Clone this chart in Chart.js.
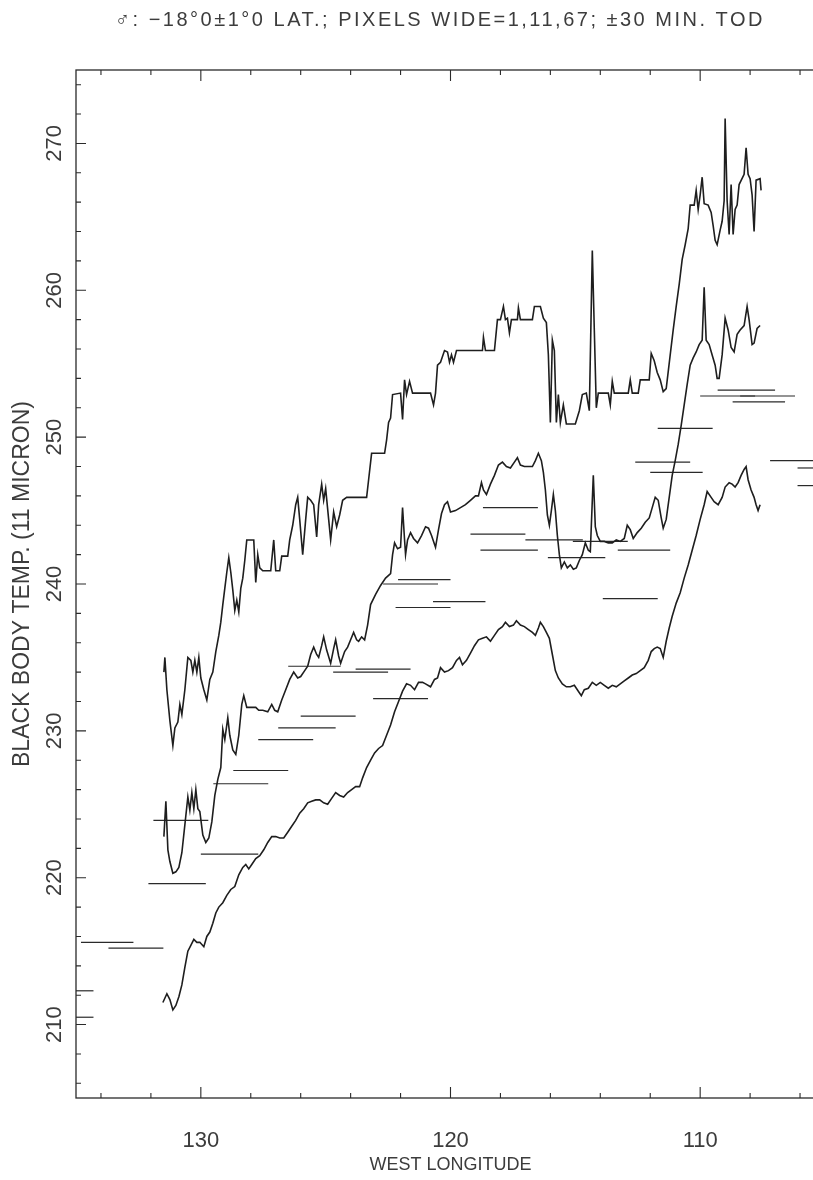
<!DOCTYPE html>
<html>
<head>
<meta charset="utf-8">
<script src="https://cdn.jsdelivr.net/npm/chart.js@4/dist/chart.umd.min.js"></script>
<style>
  html, body { margin: 0; padding: 0; background: #fff; width: 813px; height: 1180px; overflow: hidden; }
  #wrap { position: absolute; left: 0; top: 0; width: 874px; height: 1180px; }
</style>
</head>
<body>
<div id="wrap"><canvas id="chart" width="874" height="1180"></canvas></div>
<script>
// Brightness temperature (11 micron) against west longitude, three traces: [longitude, temperature]
const upperTrace = [[131.48,234.0],[131.44,235.0],[131.36,232.8],[131.24,230.7],[131.12,229.0],[131.04,230.2],[130.92,230.6],[130.84,231.8],[130.76,231.1],[130.64,232.8],[130.52,235.0],[130.40,234.8],[130.32,234.0],[130.24,234.8],[130.16,234.0],[130.08,235.0],[130.00,233.6],[129.88,232.8],[129.76,232.1],[129.64,233.5],[129.52,234.0],[129.40,235.4],[129.28,236.5],[129.20,237.4],[129.12,238.6],[129.04,239.7],[128.96,240.8],[128.88,241.8],[128.80,240.8],[128.72,239.6],[128.64,238.2],[128.56,238.9],[128.48,238.1],[128.40,239.7],[128.32,240.4],[128.24,241.6],[128.16,243.0],[128.00,243.0],[127.88,243.0],[127.80,240.1],[127.72,242.0],[127.64,241.1],[127.52,240.9],[127.20,240.9],[127.08,243.0],[127.00,240.9],[126.84,240.9],[126.76,241.9],[126.52,241.9],[126.44,243.0],[126.32,244.0],[126.20,245.4],[126.12,245.9],[126.04,244.4],[125.92,242.0],[125.80,244.4],[125.72,245.9],[125.60,245.7],[125.48,245.4],[125.36,243.2],[125.28,245.4],[125.16,246.8],[125.08,245.7],[125.00,246.5],[124.88,244.4],[124.80,243.0],[124.68,244.9],[124.56,243.9],[124.44,244.7],[124.32,245.7],[124.16,245.9],[123.36,245.9],[123.28,247.1],[123.16,248.9],[122.64,248.9],[122.56,249.8],[122.48,251.0],[122.40,251.3],[122.32,252.9],[122.00,253.0],[121.92,251.2],[121.84,253.9],[121.76,252.9],[121.64,253.8],[121.52,253.0],[120.80,253.0],[120.68,252.2],[120.60,253.0],[120.52,254.9],[120.40,255.1],[120.24,255.9],[120.12,255.8],[120.04,255.1],[119.96,255.6],[119.88,255.1],[119.76,255.9],[119.60,255.9],[118.72,255.9],[118.68,256.8],[118.60,255.9],[118.24,255.9],[118.12,258.0],[118.00,258.0],[117.88,258.9],[117.80,258.0],[117.72,258.1],[117.64,257.1],[117.56,258.0],[117.32,258.0],[117.28,258.8],[117.20,258.0],[116.72,258.0],[116.64,258.9],[116.40,258.9],[116.28,258.1],[116.16,257.8],[116.08,255.6],[116.00,251.0],[115.92,256.6],[115.84,255.9],[115.76,251.0],[115.68,252.9],[115.60,251.0],[115.48,252.2],[115.36,250.9],[115.00,250.9],[114.84,251.8],[114.72,252.9],[114.56,253.0],[114.44,251.8],[114.32,262.7],[114.24,257.3],[114.16,252.0],[114.08,253.0],[113.68,253.0],[113.60,252.2],[113.52,253.8],[113.44,253.0],[112.88,253.0],[112.80,253.9],[112.72,253.0],[112.48,253.0],[112.40,253.9],[112.04,253.9],[111.96,255.7],[111.84,255.2],[111.72,254.4],[111.60,253.9],[111.48,253.1],[111.36,253.3],[111.20,255.6],[111.08,257.3],[110.96,258.9],[110.84,260.4],[110.72,262.1],[110.60,263.1],[110.48,264.2],[110.40,265.8],[110.24,265.8],[110.16,266.8],[110.08,265.5],[110.00,266.5],[109.92,267.7],[109.84,265.9],[109.68,265.8],[109.56,265.3],[109.48,264.4],[109.40,263.4],[109.32,263.1],[109.20,264.1],[109.12,264.7],[109.04,266.1],[109.00,271.7],[108.92,266.1],[108.84,263.8],[108.76,267.2],[108.68,263.8],[108.60,265.5],[108.52,265.8],[108.44,267.2],[108.24,267.9],[108.16,269.7],[108.08,267.9],[108.00,267.6],[107.92,266.5],[107.84,264.0],[107.76,267.5],[107.60,267.6],[107.56,266.8]];

const middleTrace = [[131.48,222.8],[131.40,225.2],[131.32,221.9],[131.24,221.1],[131.12,220.3],[131.00,220.4],[130.88,220.7],[130.76,221.7],[130.64,223.6],[130.52,225.5],[130.44,224.6],[130.36,225.8],[130.28,224.7],[130.20,226.0],[130.12,224.7],[130.04,224.5],[129.92,222.9],[129.80,222.4],[129.68,222.7],[129.56,223.8],[129.44,225.6],[129.32,226.7],[129.20,227.5],[129.12,230.1],[129.04,229.4],[128.92,230.9],[128.84,229.7],[128.72,228.7],[128.60,228.4],[128.48,229.7],[128.36,231.8],[128.28,232.4],[128.16,231.6],[128.00,231.6],[127.80,231.6],[127.68,231.4],[127.52,231.4],[127.32,231.3],[127.16,231.8],[127.04,231.4],[126.92,231.3],[126.76,232.1],[126.60,232.8],[126.44,233.5],[126.28,234.0],[126.12,233.6],[126.00,233.7],[125.84,234.1],[125.72,234.4],[125.60,235.2],[125.48,235.7],[125.36,235.2],[125.28,235.0],[125.16,235.8],[125.08,236.4],[124.96,235.5],[124.80,234.6],[124.68,235.6],[124.60,236.2],[124.48,235.1],[124.40,234.6],[124.24,235.4],[124.12,235.7],[124.00,236.2],[123.88,236.7],[123.76,236.2],[123.68,236.1],[123.56,236.4],[123.44,236.2],[123.32,237.2],[123.20,238.6],[123.00,239.3],[122.80,239.9],[122.60,240.4],[122.40,240.7],[122.32,242.0],[122.24,242.8],[122.12,242.4],[122.00,242.5],[121.92,245.2],[121.84,243.0],[121.80,242.0],[121.72,243.0],[121.60,243.5],[121.48,243.1],[121.32,242.8],[121.16,243.3],[121.00,243.9],[120.88,243.8],[120.76,243.3],[120.60,242.5],[120.48,243.7],[120.36,244.8],[120.24,245.4],[120.12,245.6],[120.00,244.9],[119.80,245.0],[119.60,245.2],[119.40,245.4],[119.20,245.7],[119.00,246.0],[118.88,246.0],[118.76,246.9],[118.68,246.4],[118.56,246.1],[118.40,246.8],[118.24,247.4],[118.08,248.1],[117.92,248.3],[117.76,248.0],[117.60,247.9],[117.44,248.3],[117.32,248.6],[117.20,248.1],[117.04,248.0],[116.88,248.0],[116.72,248.0],[116.60,248.4],[116.48,248.9],[116.36,248.4],[116.28,247.6],[116.20,246.4],[116.12,244.7],[116.04,244.0],[115.96,245.0],[115.88,246.1],[115.80,245.0],[115.72,243.3],[115.64,242.0],[115.56,241.1],[115.44,241.5],[115.32,241.1],[115.20,241.3],[115.08,241.0],[114.96,241.1],[114.84,241.6],[114.72,242.0],[114.60,242.8],[114.48,242.3],[114.40,242.2],[114.32,245.7],[114.28,247.4],[114.20,243.9],[114.12,243.3],[114.00,242.9],[113.84,242.9],[113.68,242.8],[113.52,242.8],[113.36,243.0],[113.20,242.9],[113.04,243.1],[112.92,244.0],[112.80,243.7],[112.68,243.1],[112.52,243.5],[112.36,243.8],[112.20,244.2],[112.04,244.5],[111.92,245.2],[111.80,245.9],[111.68,245.7],[111.56,244.5],[111.48,243.8],[111.36,244.4],[111.24,245.9],[111.12,247.4],[111.00,248.4],[110.88,249.5],[110.76,250.8],[110.64,252.2],[110.52,253.6],[110.40,254.9],[110.28,255.4],[110.16,255.8],[110.04,256.3],[109.92,256.6],[109.84,260.2],[109.76,256.6],[109.64,256.3],[109.52,255.6],[109.40,254.9],[109.32,254.0],[109.24,254.0],[109.12,255.6],[109.00,258.1],[108.88,257.3],[108.76,256.1],[108.64,255.8],[108.52,257.0],[108.40,257.3],[108.24,257.6],[108.12,258.9],[108.04,258.0],[107.92,256.3],[107.84,256.4],[107.72,257.4],[107.60,257.6]];

const lowerTrace = [[131.52,211.5],[131.36,212.1],[131.24,211.7],[131.12,211.0],[131.00,211.3],[130.88,211.9],[130.76,212.7],[130.64,213.9],[130.52,215.0],[130.40,215.4],[130.28,215.8],[130.16,215.6],[130.04,215.6],[129.88,215.3],[129.76,216.0],[129.64,216.3],[129.52,216.9],[129.40,217.6],[129.28,218.0],[129.12,218.3],[128.96,218.8],[128.80,219.2],[128.64,219.4],[128.48,220.2],[128.32,220.7],[128.20,220.9],[128.08,220.6],[127.96,220.9],[127.80,221.3],[127.64,221.5],[127.48,221.9],[127.32,222.4],[127.16,222.8],[127.00,222.8],[126.84,222.7],[126.68,222.7],[126.52,223.1],[126.36,223.5],[126.20,223.9],[126.04,224.4],[125.88,224.7],[125.72,225.1],[125.56,225.2],[125.40,225.3],[125.24,225.3],[125.08,225.1],[124.92,225.0],[124.76,225.4],[124.60,225.8],[124.44,225.6],[124.28,225.5],[124.12,225.8],[123.96,226.0],[123.80,226.2],[123.64,226.2],[123.52,226.8],[123.36,227.5],[123.20,228.0],[123.04,228.5],[122.88,228.8],[122.72,229.0],[122.56,229.7],[122.40,230.4],[122.24,231.3],[122.08,232.0],[121.92,232.7],[121.76,233.2],[121.60,233.1],[121.44,232.8],[121.28,233.3],[121.12,233.3],[121.00,233.2],[120.80,233.0],[120.64,233.5],[120.52,233.6],[120.40,234.3],[120.24,234.0],[120.08,234.1],[119.92,234.3],[119.76,234.8],[119.64,235.0],[119.52,234.5],[119.36,234.8],[119.20,235.3],[119.04,235.8],[118.88,236.2],[118.72,236.3],[118.56,236.4],[118.40,236.1],[118.24,236.5],[118.08,236.9],[117.92,237.1],[117.80,237.4],[117.64,237.1],[117.48,237.2],[117.36,237.5],[117.20,237.2],[117.04,237.1],[116.88,236.9],[116.72,236.7],[116.60,236.5],[116.48,237.0],[116.40,237.4],[116.28,237.1],[116.16,236.7],[116.04,236.3],[115.92,235.2],[115.80,234.1],[115.68,233.6],[115.52,233.2],[115.36,233.0],[115.20,233.0],[115.04,233.1],[114.88,232.7],[114.76,232.4],[114.64,232.8],[114.48,232.9],[114.32,233.3],[114.16,233.1],[114.00,233.3],[113.84,233.1],[113.68,232.9],[113.52,233.1],[113.36,233.0],[113.20,233.2],[113.04,233.4],[112.88,233.6],[112.72,233.8],[112.56,233.9],[112.40,234.1],[112.24,234.3],[112.08,234.8],[111.96,235.4],[111.84,235.6],[111.72,235.7],[111.60,235.6],[111.48,235.0],[111.36,236.1],[111.24,237.0],[111.12,237.8],[110.96,238.7],[110.80,239.4],[110.64,240.4],[110.48,241.3],[110.32,242.3],[110.16,243.3],[110.00,244.4],[109.84,245.4],[109.72,246.3],[109.56,245.9],[109.44,245.6],[109.28,245.4],[109.12,245.9],[109.00,246.6],[108.84,246.9],[108.72,246.8],[108.60,246.6],[108.48,246.9],[108.36,247.4],[108.24,247.8],[108.16,248.0],[108.08,247.1],[107.96,246.4],[107.84,245.9],[107.76,245.4],[107.68,245.0],[107.60,245.4]];

// Horizontal reference segments: [start longitude, end longitude, temperature]
const refSegments = [[135.0,134.3,212.3],[135.0,134.3,210.5],[134.8,132.7,215.6],[133.7,131.5,215.2],[132.1,129.8,219.6],[131.9,129.7,223.9],[130.0,127.7,221.6],[129.5,127.3,226.4],[128.7,126.5,227.3],[127.7,125.5,229.4],[126.9,124.6,230.2],[126.0,123.8,231.0],[126.5,124.4,234.4],[124.7,122.5,234.0],[123.8,121.6,234.2],[123.1,120.9,232.2],[122.1,120.0,240.3],[122.7,120.5,240.0],[120.7,118.6,238.8],[122.2,120.0,238.4],[118.7,116.5,245.2],[119.2,117.0,243.4],[118.8,116.5,242.3],[117.0,114.7,243.0],[115.1,112.9,242.9],[116.1,113.8,241.8],[113.3,111.2,242.3],[113.9,111.7,239.0],[111.7,109.5,250.6],[112.6,110.4,248.3],[112.0,109.9,247.6],[109.3,107.0,253.2],[110.0,107.8,252.8],[108.4,106.2,252.8],[108.7,106.6,252.4],[107.2,105.0,248.4],[106.1,105.0,247.9],[106.1,105.0,246.7]];

// Axis ticks
const xTicks = [106,108,110,112,114,116,118,120,122,124,126,128,130,132,134];
const xTickLabels = [130,120,110];
const yTicks = [206,208,210,212,214,216,218,220,222,224,226,228,230,232,234,236,238,240,242,244,246,248,250,252,254,256,258,260,262,264,266,268,270,272,274];
const yTickLabels = [210,220,230,240,250,260,270];

const HEADING = '\u2642: \u221218\u00b00\u00b11\u00b00 LAT.; PIXELS WIDE=1,11,67; \u00b130 MIN. TOD';

const FONT = "'Liberation Sans', 'DejaVu Sans', Arial, sans-serif";
const INK = '#1e1e1e';
const TEXT = '#3c3c3c';

const toPoints = rows => rows.map(r => ({ x: r[0], y: r[1] }));

const traceStyle = { showLine: true, pointRadius: 0, borderColor: INK, borderWidth: 1.6, tension: 0, fill: false };
const datasets = [
  Object.assign({ label: 'upper', data: toPoints(upperTrace) }, traceStyle),
  Object.assign({ label: 'middle', data: toPoints(middleTrace) }, traceStyle),
  Object.assign({ label: 'lower', data: toPoints(lowerTrace) }, traceStyle)
];
refSegments.forEach((s, i) => {
  datasets.push({
    label: 'segment ' + i,
    data: [{ x: s[0], y: s[2] }, { x: s[1], y: s[2] }],
    showLine: true, pointRadius: 0, borderColor: '#2a2a2a', borderWidth: 1.2, tension: 0
  });
});

// Boxed frame with inward tick marks on all four sides, rotated y tick labels and the heading line
const framePlugin = {
  id: 'frame',
  afterDraw(chart) {
    const { ctx, chartArea: a, scales } = chart;
    const xs = scales.x, ys = scales.y;
    ctx.save();
    ctx.strokeStyle = '#2a2a2a';
    ctx.lineWidth = 1.3;
    ctx.strokeRect(a.left, a.top, a.right - a.left, a.bottom - a.top);
    ctx.lineWidth = 1.1;
    ctx.beginPath();
    xTicks.forEach(v => {
      const p = xs.getPixelForValue(v);
      const len = xTickLabels.includes(v) ? 11 : 5;
      ctx.moveTo(p, a.bottom); ctx.lineTo(p, a.bottom - len);
      ctx.moveTo(p, a.top); ctx.lineTo(p, a.top + len);
    });
    yTicks.forEach(v => {
      const p = ys.getPixelForValue(v);
      const len = yTickLabels.includes(v) ? 10 : 5;
      ctx.moveTo(a.left, p); ctx.lineTo(a.left + len, p);
      ctx.moveTo(a.right, p); ctx.lineTo(a.right - len, p);
    });
    ctx.stroke();

    ctx.fillStyle = TEXT;
    ctx.font = '22px ' + FONT;
    ctx.textAlign = 'center';
    ctx.textBaseline = 'middle';
    yTickLabels.forEach(v => {
      const p = ys.getPixelForValue(v);
      ctx.save();
      ctx.translate(a.left - 21, p);
      ctx.rotate(-Math.PI / 2);
      ctx.fillText(String(v), 0, 0);
      ctx.restore();
    });

    // heading above the frame
    ctx.font = '20px ' + FONT;
    if ('letterSpacing' in ctx) ctx.letterSpacing = '2.5px';
    ctx.fillText(HEADING, 440, 20);
    ctx.restore();
  }
};

new Chart(document.getElementById('chart'), {
  type: 'scatter',
  data: { datasets },
  plugins: [framePlugin],
  options: {
    responsive: false,
    animation: false,
    events: [],
    layout: { padding: { left: 0, right: 49, top: 70, bottom: 0 } },
    plugins: {
      legend: { display: false },
      tooltip: { enabled: false },
      title: { display: false }
    },
    scales: {
      x: {
        type: 'linear',
        reverse: true,
        min: 105,
        max: 135,
        grid: { display: false, drawTicks: false },
        border: { display: false },
        afterBuildTicks: scale => { scale.ticks = xTicks.map(v => ({ value: v })); },
        afterFit: scale => { scale.height = 82; },
        ticks: {
          autoSkip: false,
          maxRotation: 0,
          minRotation: 0,
          padding: 30,
          color: TEXT,
          font: { family: FONT, size: 22 },
          callback: v => (xTickLabels.includes(v) ? String(v) : '')
        },
        title: {
          display: true,
          text: 'WEST LONGITUDE',
          color: TEXT,
          font: { family: FONT, size: 18 },
          padding: { top: 0, bottom: 4 }
        }
      },
      y: {
        type: 'linear',
        min: 205,
        max: 275,
        grid: { display: false, drawTicks: false },
        border: { display: false },
        afterBuildTicks: scale => { scale.ticks = yTicks.map(v => ({ value: v })); },
        afterFit: scale => { scale.width = 76; },
        ticks: { display: false },
        title: {
          display: true,
          text: 'BLACK BODY TEMP. (11 MICRON)',
          color: TEXT,
          font: { family: FONT, size: 23 },
          padding: { top: 9, bottom: 0 }
        }
      }
    }
  }
});
</script>
</body>
</html>
